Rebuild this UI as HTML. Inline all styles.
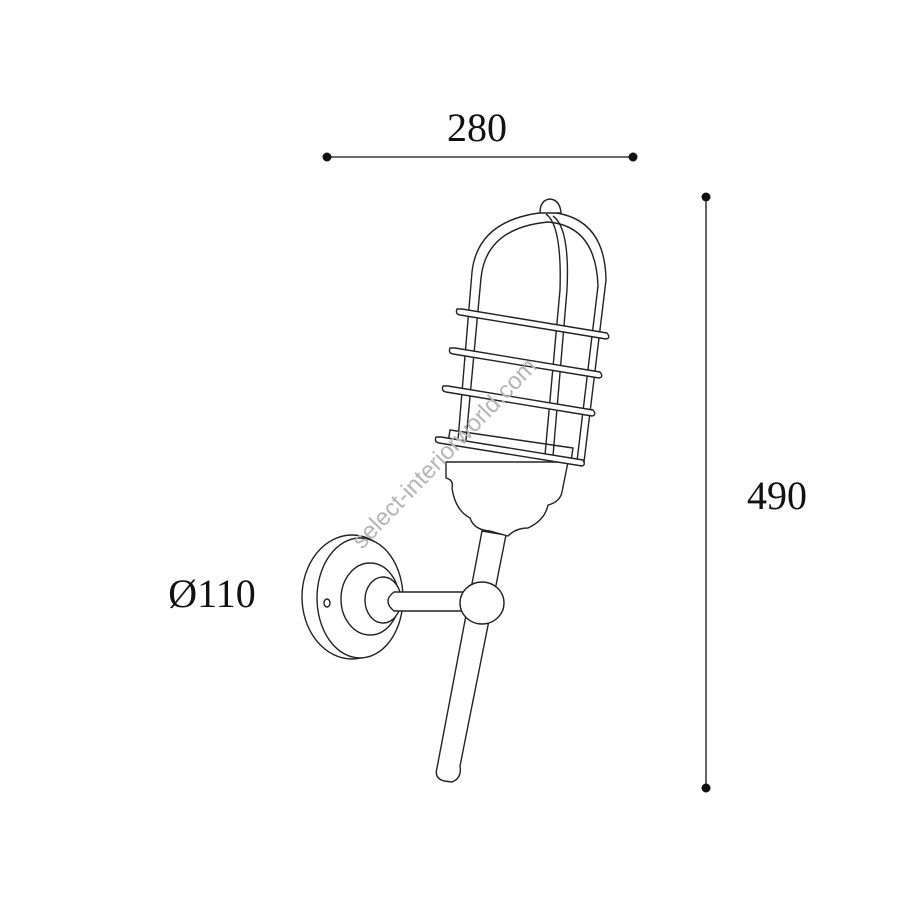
<!DOCTYPE html>
<html><head><style>
html,body{margin:0;padding:0;background:#fff}
svg{display:block}
.t{font-family:"Liberation Serif",serif;fill:#111}
.w{font-family:"Liberation Sans",sans-serif;fill:#b5b5b5}
</style></head><body>
<svg width="900" height="900" viewBox="0 0 900 900" xmlns="http://www.w3.org/2000/svg">
<g stroke="#111" stroke-width="1.3">
<line x1="327" y1="157" x2="633" y2="157"/>
<line x1="706" y1="197" x2="706" y2="788"/>
</g>
<g fill="#111">
<circle cx="327" cy="157" r="4.5"/><circle cx="633" cy="157" r="4.5"/>
<circle cx="706" cy="197" r="4.5"/><circle cx="706" cy="788" r="4.5"/>
</g>
<text class="t" x="477" y="141" font-size="40" text-anchor="middle">280</text>
<text class="t" x="777" y="509" font-size="40" text-anchor="middle">490</text>
<text class="t" x="212" y="607" font-size="40" text-anchor="middle">Ø110</text>

<g fill="#fff" stroke="#222" stroke-width="1.4" stroke-linejoin="round">
<path d="M482,531 L506,535 L460,766 Q462,778 452,782 L444,781 Q434,778 437,768 Z"/>
<ellipse cx="352" cy="597" rx="50" ry="62"/>
<ellipse cx="360" cy="598" rx="43" ry="60"/>
<ellipse cx="370" cy="599" rx="29" ry="36"/>
<ellipse cx="383" cy="600" rx="18" ry="23"/>
<ellipse cx="327" cy="603" rx="3" ry="4"/>
<path d="M394,592 L470,592 L470,611 L394,611 Q382,601 394,592 Z"/>
<ellipse cx="482" cy="603" rx="22" ry="21"/>
<path d="M446,462 L446,478 Q454,480 452,488 Q455,510 470,518 Q474,530 490,531 L508,536 Q516,528 528,528 Q545,520 548,505 Q560,502 562,492 L568,462 Z"/>
<path d="M472,272 Q478,218 548,212 Q605,216 606,280 L584,462" fill="none"/>
<path d="M481,278 Q486,228 548,222 Q596,226 598,286 L577,461" fill="none"/>
<path d="M540,213 Q540,200 550,199 Q560,200 561,213 Z"/>
<path d="M450,430 L573,448 L571,461 L448,443 Z"/>
<path d="M472,272 L458,440 M481,278 L466,440" fill="none"/>
<path d="M546,214 Q562,225 560,290 L545,455 M553,216 Q570,228 567,290 L553,456" fill="none"/>
<path d="M457,309 Q455,314 460,315 L606,339 Q611,338 607,333 L462,309 Z"/>
<path d="M450,348 Q448,353 453,354 L599,378 Q604,377 600,372 L455,348 Z"/>
<path d="M443,386 Q441,391 446,392 L592,416 Q597,415 593,410 L448,386 Z"/>
<path d="M436,437 Q434,442 439,443 L582,466 Q586,465 583,460 L441,437 Z"/>
</g>
<text class="w" x="0" y="0" font-size="24" transform="translate(362,550) rotate(-46)">select-interiorworld.com</text>
</svg>
</body></html>
